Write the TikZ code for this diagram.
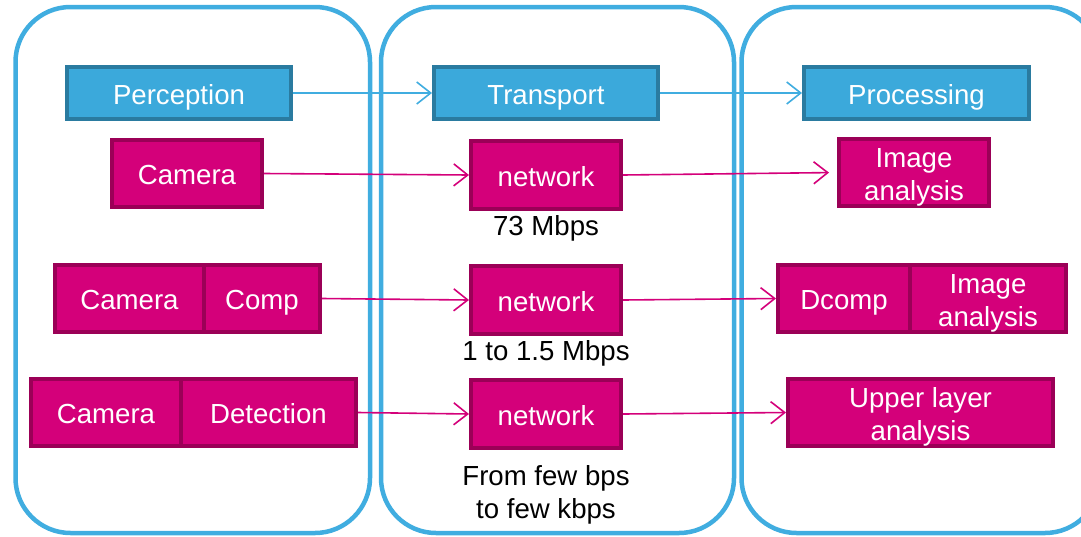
\documentclass[tikz,border=0pt]{standalone}
\usepackage{fontspec}
\setmainfont{Liberation Sans}
\usetikzlibrary{arrows.meta}
\definecolor{panelblue}{HTML}{40ADE0}
\definecolor{bluefill}{HTML}{3BA9DB}
\definecolor{blueedge}{HTML}{2A7BA0}
\definecolor{magfill}{HTML}{D4007A}
\definecolor{magedge}{HTML}{9B0057}
\tikzset{
  txt/.style={inner sep=0pt, align=center, text height=22pt, text depth=0pt,
    font=\fontsize{27.6}{33}\selectfont},
  twolines/.style={text height=55pt},
  panel/.style={draw=panelblue, line width=4.5pt, rounded corners=55pt},
  stagebox/.style={txt, draw=blueedge, fill=bluefill, line width=4pt, text=white,
    minimum height=52pt},
  magbox/.style={txt, draw=magedge, fill=magfill, line width=4pt, text=white,
    minimum height=67pt},
  ratelabel/.style={txt, text=black},
  bluearrow/.style={draw=panelblue, line width=1.6pt,
    -{Straight Barb[length=14pt, width=22pt, line width=1.6pt]}},
  magarrow/.style={draw=magfill, line width=1.6pt,
    -{Straight Barb[length=14pt, width=22pt, line width=1.6pt]}},
}
\begin{document}
\begin{tikzpicture}[x=1pt, y=-1pt]
\clip (0,0) rectangle (1081,536);
\fill[white] (0,0) rectangle (1081,536);

% panels
\draw[panel] (15.5,7) rectangle (370,533);
\draw[panel] (381,7) rectangle (734,533);
\draw[panel] (741.5,7) rectangle (1100,533);

% stage headers
\node[stagebox, minimum width=224pt] (perc) at (179,93) {Perception};
\node[stagebox, minimum width=224pt] (trans) at (546,93) {Transport};
\node[stagebox, minimum width=225pt] (proc) at (916.5,93) {Processing};

% row 1
\node[magbox, minimum width=150pt] (cam1) at (187,173.5) {Camera};
\node[magbox, minimum width=150pt, minimum height=68pt] (net1) at (546,175) {network};
\node[magbox, twolines, minimum width=150pt] (ia1) at (914,172.5) {Image\\analysis};
\node[ratelabel] (r1) at (546,224) {73 Mbps};

% row 2
\node[magbox, minimum width=149pt] (cam2) at (129.5,298.5) {Camera};
\node[magbox, minimum width=116pt] (comp) at (262,298.5) {Comp};
\node[magbox, minimum width=150pt, minimum height=68pt] (net2) at (546,300) {network};
\node[magbox, minimum width=132pt] (dcomp) at (844,298.5) {Dcomp};
\node[magbox, twolines, minimum width=156pt] (ia2) at (988,298.5) {Image\\analysis};
\node[ratelabel] (r2) at (546,349) {1 to 1.5 Mbps};

% row 3
\node[magbox, minimum width=150pt] (cam3) at (106,412.5) {Camera};
\node[magbox, minimum width=175pt] (det) at (268.5,412.5) {Detection};
\node[magbox, minimum width=150pt, minimum height=68pt] (net3) at (546,414) {network};
\node[magbox, twolines, minimum width=265pt] (upper) at (920.5,412.5) {Upper layer\\analysis};
\node[ratelabel, twolines] (r3) at (546,490.5) {From few bps\\to few kbps};

% connectors
\draw[bluearrow] (perc.east) -- (trans.west);
\draw[bluearrow] (trans.east) -- (proc.west);

\draw[magarrow] (cam1.east) -- (net1.west);
\draw[magarrow, shorten >=8pt] (net1.east) -- (ia1.west);

\draw[magarrow] (comp.east) -- (net2.west);
\draw[magarrow] (net2.east) -- (dcomp.west);

\draw[magarrow] (det.east) -- (net3.west);
\draw[magarrow] (net3.east) -- (upper.west);
\end{tikzpicture}
\end{document}
